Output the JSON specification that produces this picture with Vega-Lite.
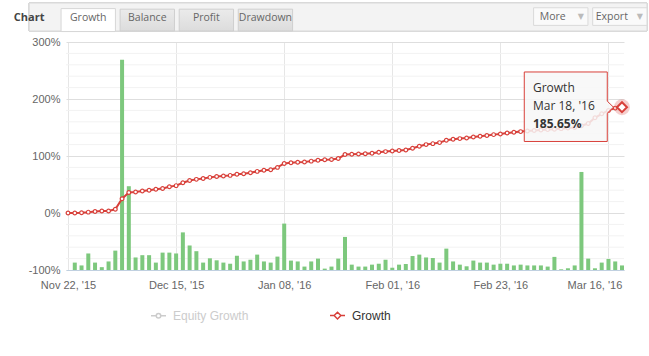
{
  "$schema": "https://vega.github.io/schema/vega-lite/v6.json",
  "background": "white",
  "padding": {"left": 2, "top": 2, "right": 2, "bottom": 2},
  "spacing": 3,
  "config": {"font": "Liberation Sans", "view": {"stroke": null}, "axisY": {"labelOverlap": false}},
  "resolve": {"legend": {"color": "independent"}},
  "datasets": {
    "tabs": [
      {"tab": "Chart", "kind": "title"},
      {"tab": "Growth", "kind": "active"},
      {"tab": "Balance", "kind": "tab"},
      {"tab": "Profit", "kind": "tab"},
      {"tab": "Drawdown", "kind": "tab"},
      {"tab": "More", "kind": "button"},
      {"tab": "Export", "kind": "button"}
    ],
    "minorGrid": [
      {"v": -80}, {"v": -60}, {"v": -40}, {"v": -20},
      {"v": 20}, {"v": 40}, {"v": 60}, {"v": 80},
      {"v": 120}, {"v": 140}, {"v": 160}, {"v": 180},
      {"v": 220}, {"v": 240}, {"v": 260}, {"v": 280}
    ],
    "tip": [
      {"series": "Growth", "date": "2016-03-18", "growth": 185.65, "dateLabel": "Mar 18, '16", "valueLabel": "185.65%"}
    ],
    "growth": [
      {"series": "Growth", "date": "2015-11-22", "growth": 0},
      {"series": "Growth", "date": "2015-11-23", "growth": 0, "bar": -87},
      {"series": "Growth", "date": "2015-11-24", "growth": 0.5, "bar": -92},
      {"series": "Growth", "date": "2015-11-25", "growth": 1.5, "bar": -71},
      {"series": "Growth", "date": "2015-11-27", "growth": 2.8, "bar": -87},
      {"series": "Growth", "date": "2015-11-30", "growth": 3.5, "bar": -95},
      {"series": "Growth", "date": "2015-12-01", "growth": 3.6, "bar": -85},
      {"series": "Growth", "date": "2015-12-02", "growth": 6.5, "bar": -66},
      {"series": "Growth", "date": "2015-12-03", "growth": 25, "bar": 269},
      {"series": "Growth", "date": "2015-12-04", "growth": 36, "bar": 47},
      {"series": "Growth", "date": "2015-12-07", "growth": 37, "bar": -78},
      {"series": "Growth", "date": "2015-12-08", "growth": 38.5, "bar": -74},
      {"series": "Growth", "date": "2015-12-09", "growth": 40, "bar": -74},
      {"series": "Growth", "date": "2015-12-10", "growth": 41.5, "bar": -87},
      {"series": "Growth", "date": "2015-12-11", "growth": 43, "bar": -69.5},
      {"series": "Growth", "date": "2015-12-14", "growth": 46, "bar": -69.5},
      {"series": "Growth", "date": "2015-12-15", "growth": 48, "bar": -71},
      {"series": "Growth", "date": "2015-12-16", "growth": 53, "bar": -34},
      {"series": "Growth", "date": "2015-12-17", "growth": 57, "bar": -57},
      {"series": "Growth", "date": "2015-12-18", "growth": 59, "bar": -67},
      {"series": "Growth", "date": "2015-12-21", "growth": 60.5, "bar": -87},
      {"series": "Growth", "date": "2015-12-22", "growth": 62.5, "bar": -79.5},
      {"series": "Growth", "date": "2015-12-23", "growth": 64, "bar": -83},
      {"series": "Growth", "date": "2015-12-24", "growth": 65, "bar": -87},
      {"series": "Growth", "date": "2015-12-28", "growth": 66, "bar": -89},
      {"series": "Growth", "date": "2015-12-29", "growth": 68, "bar": -75},
      {"series": "Growth", "date": "2015-12-30", "growth": 69, "bar": -85},
      {"series": "Growth", "date": "2015-12-31", "growth": 70.5, "bar": -82},
      {"series": "Growth", "date": "2016-01-04", "growth": 73, "bar": -73},
      {"series": "Growth", "date": "2016-01-05", "growth": 75, "bar": -85},
      {"series": "Growth", "date": "2016-01-06", "growth": 76, "bar": -87},
      {"series": "Growth", "date": "2016-01-07", "growth": 80, "bar": -76.5},
      {"series": "Growth", "date": "2016-01-08", "growth": 87, "bar": -18.6},
      {"series": "Growth", "date": "2016-01-11", "growth": 88, "bar": -83.5},
      {"series": "Growth", "date": "2016-01-12", "growth": 89, "bar": -85},
      {"series": "Growth", "date": "2016-01-13", "growth": 89.5, "bar": -94},
      {"series": "Growth", "date": "2016-01-14", "growth": 91, "bar": -85},
      {"series": "Growth", "date": "2016-01-15", "growth": 92.5, "bar": -80},
      {"series": "Growth", "date": "2016-01-18", "growth": 93.5, "bar": -97.6},
      {"series": "Growth", "date": "2016-01-19", "growth": 94, "bar": -94},
      {"series": "Growth", "date": "2016-01-20", "growth": 95.5, "bar": -80},
      {"series": "Growth", "date": "2016-01-21", "growth": 102.5, "bar": -42},
      {"series": "Growth", "date": "2016-01-22", "growth": 103, "bar": -90.6},
      {"series": "Growth", "date": "2016-01-25", "growth": 103.5, "bar": -94},
      {"series": "Growth", "date": "2016-01-26", "growth": 104, "bar": -94},
      {"series": "Growth", "date": "2016-01-27", "growth": 104.7, "bar": -90.6},
      {"series": "Growth", "date": "2016-01-28", "growth": 106.5, "bar": -89},
      {"series": "Growth", "date": "2016-01-29", "growth": 107.7, "bar": -82},
      {"series": "Growth", "date": "2016-02-01", "growth": 108.8, "bar": -96},
      {"series": "Growth", "date": "2016-02-02", "growth": 109.5, "bar": -90.6},
      {"series": "Growth", "date": "2016-02-03", "growth": 110.5, "bar": -89.5},
      {"series": "Growth", "date": "2016-02-04", "growth": 113.5, "bar": -75.5},
      {"series": "Growth", "date": "2016-02-05", "growth": 117, "bar": -73},
      {"series": "Growth", "date": "2016-02-08", "growth": 120, "bar": -78},
      {"series": "Growth", "date": "2016-02-09", "growth": 121.7, "bar": -79},
      {"series": "Growth", "date": "2016-02-10", "growth": 123.5, "bar": -87},
      {"series": "Growth", "date": "2016-02-11", "growth": 127.5, "bar": -62.5},
      {"series": "Growth", "date": "2016-02-12", "growth": 129.3, "bar": -85},
      {"series": "Growth", "date": "2016-02-15", "growth": 130.5, "bar": -90.6},
      {"series": "Growth", "date": "2016-02-16", "growth": 131.6, "bar": -93.5},
      {"series": "Growth", "date": "2016-02-17", "growth": 133.3, "bar": -83.5},
      {"series": "Growth", "date": "2016-02-18", "growth": 134.6, "bar": -87},
      {"series": "Growth", "date": "2016-02-19", "growth": 135.8, "bar": -87},
      {"series": "Growth", "date": "2016-02-22", "growth": 137.5, "bar": -90.6},
      {"series": "Growth", "date": "2016-02-23", "growth": 138.6, "bar": -89},
      {"series": "Growth", "date": "2016-02-24", "growth": 140.4, "bar": -89},
      {"series": "Growth", "date": "2016-02-25", "growth": 141.6, "bar": -92},
      {"series": "Growth", "date": "2016-02-26", "growth": 142.8, "bar": -90.6},
      {"series": "Growth", "date": "2016-02-29", "growth": 143.9, "bar": -92},
      {"series": "Growth", "date": "2016-03-01", "growth": 144.8, "bar": -92},
      {"series": "Growth", "date": "2016-03-02", "growth": 145.5, "bar": -92},
      {"series": "Growth", "date": "2016-03-03", "growth": 146.3, "bar": -94},
      {"series": "Growth", "date": "2016-03-04", "growth": 147, "bar": -77},
      {"series": "Growth", "date": "2016-03-07", "growth": 148, "bar": -98.8},
      {"series": "Growth", "date": "2016-03-08", "growth": 149, "bar": -97},
      {"series": "Growth", "date": "2016-03-09", "growth": 150, "bar": -92},
      {"series": "Growth", "date": "2016-03-10", "growth": 153, "bar": 72},
      {"series": "Growth", "date": "2016-03-11", "growth": 157, "bar": -80},
      {"series": "Growth", "date": "2016-03-14", "growth": 167, "bar": -97},
      {"series": "Growth", "date": "2016-03-15", "growth": 174, "bar": -87},
      {"series": "Growth", "date": "2016-03-16", "growth": 180, "bar": -80.6},
      {"series": "Growth", "date": "2016-03-17", "growth": 184, "bar": -85},
      {"series": "Growth", "date": "2016-03-18", "growth": 185.65, "bar": -92}
    ]
  },
  "vconcat": [
    {
      "width": 558,
      "height": 28,
      "data": {"name": "tabs"},
      "layer": [
        {
          "mark": {"type": "rect", "fill": "#f3f3f3", "stroke": "#d9d9d9", "strokeWidth": 1},
          "encoding": {
            "x": {"datum": "Chart", "type": "nominal", "axis": null,
                  "scale": {"domain": ["Chart", "Growth", "Balance", "Profit", "Drawdown", "_1", "_2", "_3", "_4", "More", "Export"], "range": [-64, 581], "paddingInner": 0.08, "paddingOuter": 0}},
            "x2": {"datum": "Export", "bandPosition": 1}
          }
        },
        {
          "transform": [{"filter": "datum.kind == 'tab'"}],
          "mark": {"type": "rect", "stroke": "#cfcfcf", "strokeWidth": 1,
                   "fill": {"gradient": "linear", "x1": 0, "y1": 0, "x2": 0, "y2": 1, "stops": [{"offset": 0, "color": "#ebebeb"}, {"offset": 1, "color": "#dcdcdc"}]}},
          "encoding": {"x": {"field": "tab", "type": "nominal"}, "y": {"datum": 0.78, "type": "quantitative", "axis": null, "scale": {"domain": [0, 1], "nice": false}}, "y2": {"datum": 0}}
        },
        {
          "transform": [{"filter": "datum.kind == 'active'"}],
          "mark": {"type": "rect", "fill": "white", "stroke": "#d6d6d6", "strokeWidth": 1},
          "encoding": {"x": {"field": "tab", "type": "nominal"}, "y": {"datum": 0.8, "type": "quantitative"}, "y2": {"datum": -0.02}}
        },
        {
          "transform": [{"filter": "datum.kind == 'button'"}],
          "mark": {"type": "rect", "fill": "#fafafa", "stroke": "#dadada", "strokeWidth": 1},
          "encoding": {"x": {"field": "tab", "type": "nominal"}, "y": {"datum": 0.83, "type": "quantitative"}, "y2": {"datum": 0.2}}
        },
        {
          "transform": [{"filter": "datum.kind == 'tab' || datum.kind == 'active'"}],
          "mark": {"type": "text", "font": "Open Sans", "fontSize": 10.5, "color": "#666666", "baseline": "middle"},
          "encoding": {"x": {"field": "tab", "type": "nominal"}, "y": {"datum": 0.45, "type": "quantitative"}, "text": {"field": "tab"}}
        },
        {
          "transform": [{"filter": "datum.kind == 'title'"}],
          "mark": {"type": "text", "font": "Open Sans", "fontSize": 11, "fontWeight": "bold", "color": "#444444", "baseline": "middle"},
          "encoding": {"x": {"field": "tab", "type": "nominal"}, "y": {"datum": 0.45, "type": "quantitative"}, "text": {"field": "tab"}}
        },
        {
          "transform": [{"filter": "datum.kind == 'button'"}],
          "mark": {"type": "text", "font": "Open Sans", "fontSize": 10.5, "color": "#666666", "baseline": "middle", "dx": -8},
          "encoding": {"x": {"field": "tab", "type": "nominal"}, "y": {"datum": 0.5, "type": "quantitative"}, "text": {"field": "tab"}}
        },
        {
          "transform": [{"filter": "datum.kind == 'button'"}],
          "mark": {"type": "text", "font": "DejaVu Sans", "fontSize": 8, "color": "#bbbbbb", "baseline": "middle", "dx": 20, "text": "▼"},
          "encoding": {"x": {"field": "tab", "type": "nominal"}, "y": {"datum": 0.5, "type": "quantitative"}}
        }
      ]
    },
    {
      "width": 558,
      "height": 228,
      "layer": [
        {
          "data": {"name": "minorGrid"},
          "mark": {"type": "rule", "color": "#f2f2f2", "strokeWidth": 1},
          "encoding": {"y": {"field": "v", "type": "quantitative"}}
        },
        {
          "data": {"name": "growth"},
          "transform": [{"filter": "isValid(datum.bar)"}],
          "mark": {"type": "bar", "size": 4, "color": "#7dc87d"},
          "encoding": {
            "x": {
              "field": "date", "type": "ordinal",
              "scale": {"type": "point", "padding": 0.3},
              "axis": {
                "title": null,
                "values": ["2015-11-22", "2015-12-15", "2016-01-08", "2016-02-01", "2016-02-23", "2016-03-16"],
                "labelExpr": "utcFormat(toDate(datum.value), \"%b %d, '%y\")",
                "labelAngle": 0, "labelFont": "Liberation Sans", "labelFontSize": 11, "labelColor": "#666666",
                "labelPadding": 9, "labelOverlap": false,
                "labelOffset": {"condition": {"test": "datum.value === '2016-03-16'", "value": -14}, "value": 0},
                "grid": true, "gridColor": "#e6e6e6", "ticks": false,
                "domain": true, "domainColor": "#c0d0e0", "domainWidth": 1
              }
            },
            "y": {
              "field": "bar", "type": "quantitative",
              "scale": {"domain": [-100, 300], "nice": false, "zero": false},
              "axis": {
                "title": null,
                "values": [-100, 0, 100, 200, 300],
                "labelExpr": "datum.value + '%'",
                "labelFont": "Liberation Sans", "labelFontSize": 11, "labelColor": "#666666", "labelPadding": 6,
                "ticks": false, "domain": false, "minExtent": 64, "labelOverlap": false,
                "gridColor": "#dedede"
              }
            },
            "y2": {"datum": -100}
          }
        },
        {
          "data": {"name": "growth"},
          "mark": {"type": "line", "strokeWidth": 2,
                   "point": {"filled": false, "fill": "white", "size": 14, "strokeWidth": 1.2, "opacity": 1}},
          "encoding": {
            "x": {"field": "date", "type": "ordinal"},
            "y": {"field": "growth", "type": "quantitative"},
            "color": {
              "field": "series", "type": "nominal",
              "scale": {"domain": ["Equity Growth", "Growth"], "range": ["#cccccc", "#d8403a"]},
              "legend": {
                "title": null, "orient": "none", "legendX": 84, "legendY": 265, "direction": "horizontal",
                "symbolSize": 225, "labelFont": "Liberation Sans", "labelFontSize": 12, "labelOffset": 6,
                "columnPadding": 78, "symbolStrokeWidth": 1.5,
                "encode": {
                  "symbols": {"update": {
                    "shape": {"signal": "datum.value === 'Growth' ? 'M-1,0H-0.45M0.45,0H1M0,-0.45L0.45,0L0,0.45L-0.45,0Z' : 'M-1,0H-0.3M0.3,0H1M0.3,0A0.3,0.3,0,1,1,-0.3,0A0.3,0.3,0,1,1,0.3,0'"},
                    "fill": {"value": "white"},
                    "stroke": {"signal": "datum.value === 'Growth' ? '#d8403a' : '#cccccc'"},
                    "strokeWidth": {"value": 1.5}
                  }},
                  "labels": {"update": {"fill": {"signal": "datum.value === 'Growth' ? '#333333' : '#cccccc'"}}}
                }
              }
            }
          }
        },
        {
          "data": {"name": "tip"},
          "mark": {"type": "point", "shape": "M-1.954,-0.704H-0.294V-0.12L-0.17,0L-0.294,0.12V0.686H-1.954Z", "size": 10000,
                   "filled": true, "fill": "#f7f7f7", "fillOpacity": 0.85, "stroke": "#d8403a", "strokeWidth": 1, "opacity": 1},
          "encoding": {"x": {"field": "date", "type": "ordinal"}, "y": {"field": "growth", "type": "quantitative"}}
        },
        {
          "data": {"name": "tip"},
          "mark": {"type": "text", "align": "left", "baseline": "middle", "dx": -89, "dy": -19, "font": "Open Sans", "fontSize": 12, "color": "#333333"},
          "encoding": {"x": {"field": "date", "type": "ordinal"}, "y": {"field": "growth", "type": "quantitative"}, "text": {"field": "series"}}
        },
        {
          "data": {"name": "tip"},
          "mark": {"type": "text", "align": "left", "baseline": "middle", "dx": -89, "dy": -1, "font": "Open Sans", "fontSize": 12, "color": "#333333"},
          "encoding": {"x": {"field": "date", "type": "ordinal"}, "y": {"field": "growth", "type": "quantitative"}, "text": {"field": "dateLabel"}}
        },
        {
          "data": {"name": "tip"},
          "mark": {"type": "text", "align": "left", "baseline": "middle", "dx": -89, "dy": 17, "font": "Open Sans", "fontSize": 12, "fontWeight": "bold", "color": "#333333"},
          "encoding": {"x": {"field": "date", "type": "ordinal"}, "y": {"field": "growth", "type": "quantitative"}, "text": {"field": "valueLabel"}}
        },
        {
          "data": {"name": "tip"},
          "mark": {"type": "point", "shape": "circle", "size": 254, "filled": true, "fill": "#d8403a", "opacity": 0.25, "strokeWidth": 0},
          "encoding": {"x": {"field": "date", "type": "ordinal"}, "y": {"field": "growth", "type": "quantitative"}}
        },
        {
          "data": {"name": "tip"},
          "mark": {"type": "point", "shape": "diamond", "size": 100, "filled": true, "fill": "white", "stroke": "#d8403a", "strokeWidth": 2, "opacity": 1},
          "encoding": {"x": {"field": "date", "type": "ordinal"}, "y": {"field": "growth", "type": "quantitative"}}
        }
      ]
    }
  ]
}
